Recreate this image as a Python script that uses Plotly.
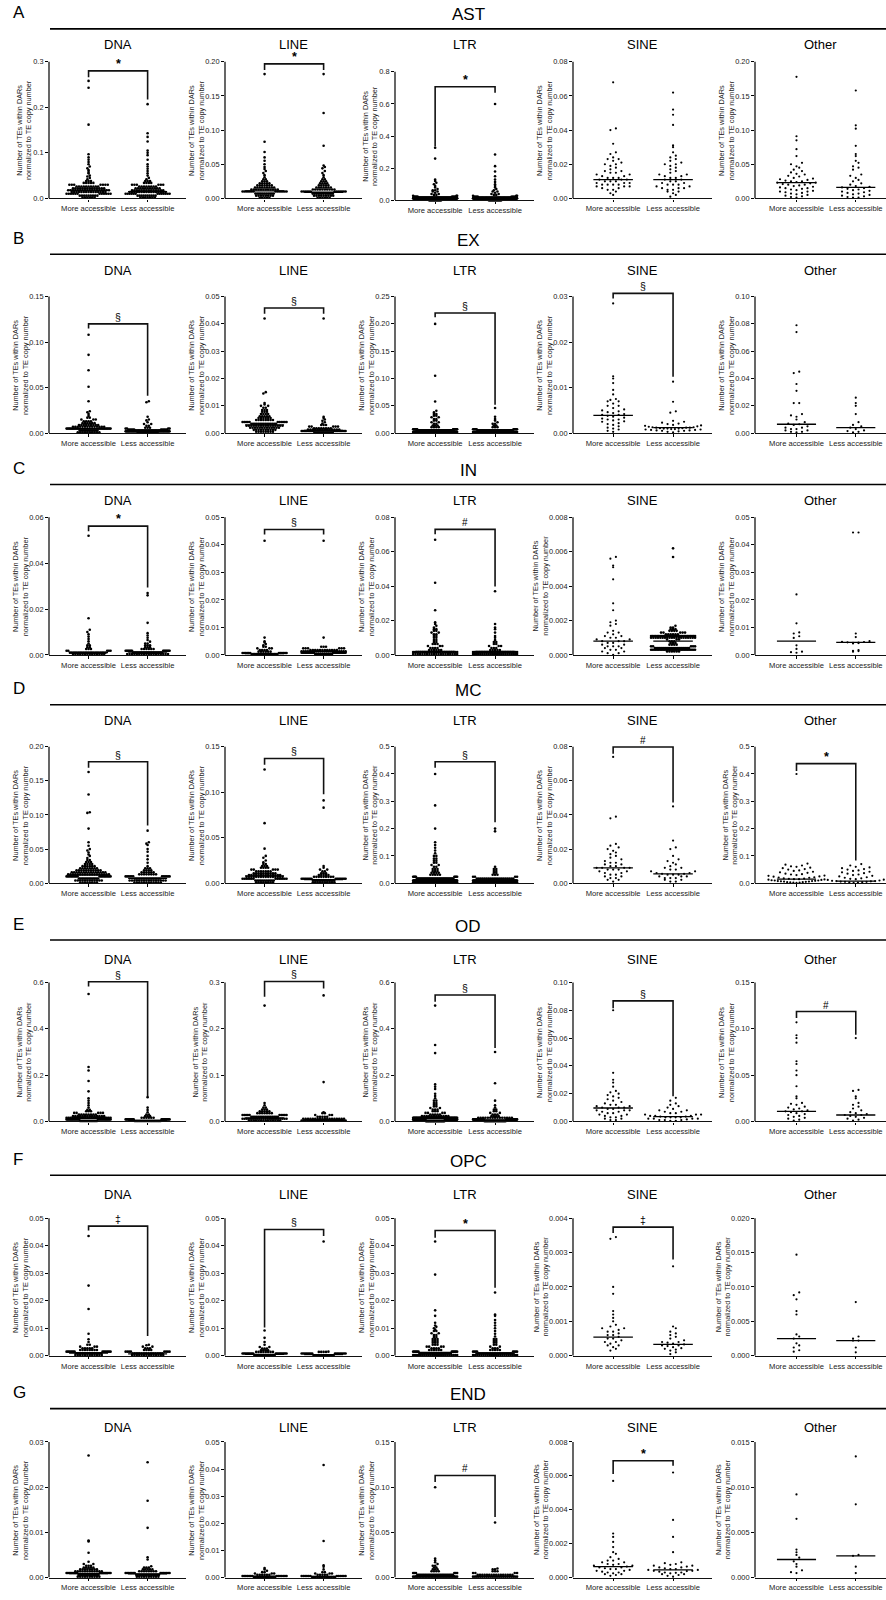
import plotly.graph_objects as go

W, H = 886, 1600

CELL_TYPES = ["AST", "EX", "IN", "MC", "OD", "OPC", "END"]
PANEL_LETTERS = ["A", "B", "C", "D", "E", "F", "G"]
TE_CLASSES = ["DNA", "LINE", "LTR", "SINE", "Other"]
GROUP_LABELS = ["More accessible", "Less accessible"]
Y_TITLE = "Number of TEs within DARs<br>normalized to TE copy number"

# axis maxima and tick steps, one entry per TE class
Y_MAX = {
    "AST": [0.3, 0.2, 0.8, 0.08, 0.2],
    "EX": [0.15, 0.05, 0.25, 0.03, 0.10],
    "IN": [0.06, 0.05, 0.08, 0.008, 0.05],
    "MC": [0.20, 0.15, 0.5, 0.08, 0.5],
    "OD": [0.6, 0.3, 0.6, 0.10, 0.15],
    "OPC": [0.05, 0.05, 0.05, 0.004, 0.020],
    "END": [0.03, 0.05, 0.15, 0.008, 0.015],
}
Y_STEP = {
    "AST": [0.1, 0.05, 0.2, 0.02, 0.05],
    "EX": [0.05, 0.01, 0.05, 0.01, 0.02],
    "IN": [0.02, 0.01, 0.02, 0.002, 0.01],
    "MC": [0.05, 0.05, 0.1, 0.02, 0.1],
    "OD": [0.2, 0.1, 0.2, 0.02, 0.05],
    "OPC": [0.01, 0.01, 0.01, 0.001, 0.005],
    "END": [0.01, 0.01, 0.05, 0.002, 0.005],
}

# medians (more accessible, less accessible)
MEDIANS = {
    "AST": [(0.018, 0.015), (0.011, 0.009), (0.015, 0.013), (0.011, 0.011), (0.023, 0.016)],
    "EX": [(0.005, 0.002), (0.003, 0.001), (0.005, 0.003), (0.0039, 0.0012), (0.0065, 0.004)],
    "IN": [(0.001, 0.0012), (0.0005, 0.0012), (0.002, 0.002), (0.0008, 0.0008), (0.005, 0.0046)],
    "MC": [(0.012, 0.007), (0.008, 0.004), (0.012, 0.008), (0.009, 0.0055), (0.015, 0.008)],
    "OD": [(0.012, 0.005), (0.008, 0.004), (0.015, 0.007), (0.0097, 0.0035), (0.011, 0.007)],
    "OPC": [(0.001, 0.0007), (0.0005, 0.0004), (0.0012, 0.0008), (0.00054, 0.00033), (0.0025, 0.0022)],
    "END": [(0.0009, 0.0008), (0.0005, 0.0004), (0.002, 0.0015), (0.00065, 0.00045), (0.002, 0.0024)],
}

# significance brackets: (symbol, bracket level, left leg end, right leg end)
SIGNIF = {
    "AST": [("*", 0.280, 0.266, 0.217), ("*", 0.197, 0.188, 0.188), ("*", 0.707, 0.335, 0.67), None, None],
    "EX": [("§", 0.120, 0.115, 0.041), ("§", 0.0458, 0.0437, 0.0437), ("§", 0.220, 0.212, 0.052),
           ("§", 0.0307, 0.0296, 0.0124), None],
    "IN": [("*", 0.0562, 0.054, 0.0294), ("§", 0.0456, 0.0438, 0.0438), ("#", 0.073, 0.0702, 0.0398), None, None],
    "MC": [("§", 0.178, 0.169, 0.0846), ("§", 0.137, 0.130, 0.0978), ("§", 0.445, 0.423, 0.223),
           ("#", 0.0798, 0.0759, 0.0473), ("*", 0.438, 0.411, 0.0828)],
    "OD": [("§", 0.603, 0.582, 0.109), ("§", 0.302, 0.269, 0.287), ("§", 0.546, 0.517, 0.317),
           ("§", 0.0867, 0.0815, 0.0181), ("#", 0.1186, 0.1115, 0.0935)],
    "OPC": [("‡", 0.0471, 0.0455, 0.0072), ("§", 0.0459, 0.0103, 0.0435), ("*", 0.0455, 0.0429, 0.0247),
            ("‡", 0.00374, 0.00357, 0.0028), None],
    "END": [None, None, ("#", 0.113, 0.1057, 0.067), ("*", 0.00689, 0.00611, 0.0066), None],
}

# values per group; (value, n) marks n subfamilies sharing that value
MORE_AST = {
    "DNA": [(0.002, 6), (0.006, 9), (0.010, 12), (0.014, 15), (0.018, 18), (0.022, 14), (0.026, 10), (0.030, 7),
            (0.034, 5), (0.038, 3), 0.042, 0.045, 0.048, 0.050, 0.055, 0.058, 0.062, 0.066, 0.070, 0.075, 0.080,
            0.085, 0.090, 0.097, 0.162, 0.243, 0.258],
    "LINE": [(0.001, 5), (0.004, 8), (0.007, 11), (0.010, 14), (0.013, 12), (0.016, 9), (0.019, 7), (0.022, 5),
             (0.025, 3), (0.028, 2), 0.031, 0.034, 0.037, 0.040, 0.043, 0.046, 0.050, 0.055, 0.060, 0.068, 0.083,
             0.182],
    "LTR": [(0.003, 70), (0.008, 90), (0.013, 80), (0.018, 50), (0.023, 14), (0.028, 3), (0.034, 2), (0.040, 2),
            0.047, (0.055, 2), (0.063, 2), 0.071, 0.080, 0.090, 0.100, 0.110, 0.120, 0.130, 0.260, 0.327],
    "SINE": [0.068, 0.041, 0.040, 0.032, 0.027, 0.026, 0.024, 0.023, 0.023, 0.022, 0.021, 0.020, 0.020, 0.019,
             0.018, 0.017, 0.016, 0.016, 0.015, 0.015, 0.014, 0.014, 0.013, 0.013, 0.012, 0.012, 0.012, 0.011,
             0.011, 0.011, 0.010, 0.010, 0.010, 0.009, 0.009, 0.009, 0.008, 0.008, 0.008, 0.008, 0.007, 0.007,
             0.007, 0.006, 0.006, 0.005, 0.005, 0.004, 0.003, 0.002],
    "Other": [0.178, 0.091, 0.085, 0.072, 0.062, 0.052, 0.050, 0.047, 0.045, 0.042, 0.040, 0.038, 0.036, 0.035,
              0.033, 0.032, 0.030, 0.029, 0.028, 0.027, 0.026, 0.025, 0.025, 0.024, 0.023, 0.023, 0.022, 0.021,
              0.020, 0.020, 0.019, 0.018, 0.017, 0.016, 0.015, 0.015, 0.014, 0.013, 0.012, 0.011, 0.010, 0.010,
              0.009, 0.008, 0.007, 0.006, 0.005, 0.004, 0.003, 0.002, 0.001],
}
LESS_AST = {
    "DNA": [(0.002, 7), (0.006, 10), (0.010, 13), (0.014, 16), (0.018, 14), (0.022, 11), (0.026, 8), (0.030, 6),
            (0.034, 4), (0.038, 3), 0.042, 0.045, 0.050, 0.055, 0.060, 0.065, 0.070, 0.075, 0.085, 0.095, 0.100,
            0.105, 0.125, 0.135, 0.143, 0.207],
    "LINE": [(0.001, 6), (0.004, 9), (0.007, 12), (0.010, 13), (0.013, 10), (0.016, 7), (0.019, 5), (0.022, 4),
             (0.025, 3), (0.028, 2), 0.031, 0.034, 0.037, 0.040, 0.044, 0.046, 0.048, 0.077, 0.125, 0.182],
    "LTR": [(0.003, 70), (0.008, 90), (0.013, 70), (0.018, 40), (0.023, 12), (0.028, 3), (0.034, 2), (0.040, 2),
            0.047, (0.055, 2), 0.063, 0.071, 0.080, 0.090, 0.100, 0.115, 0.130, 0.150, 0.180, 0.213, 0.285, 0.600],
    "SINE": [0.062, 0.052, 0.049, 0.043, 0.031, 0.030, 0.027, 0.025, 0.024, 0.023, 0.022, 0.021, 0.020, 0.020,
             0.019, 0.018, 0.017, 0.016, 0.015, 0.014, 0.014, 0.013, 0.013, 0.012, 0.012, 0.011, 0.011, 0.010,
             0.010, 0.009, 0.009, 0.008, 0.008, 0.008, 0.007, 0.007, 0.006, 0.006, 0.006, 0.005, 0.005, 0.004,
             0.004, 0.003, 0.002, 0.001],
    "Other": [0.158, 0.107, 0.102, 0.077, 0.065, 0.062, 0.055, 0.052, 0.047, 0.045, 0.042, 0.035, 0.033, 0.030,
              0.027, 0.025, 0.022, 0.020, 0.018, 0.017, 0.016, 0.015, 0.014, 0.013, 0.012, 0.011, 0.010, 0.009,
              0.008, 0.007, 0.006, 0.005, 0.004, 0.003, 0.002, 0.001, 0.001],
}

MORE_EX = {
    "DNA": [(0.001, 10), (0.003, 16), (0.005, 22), (0.007, 14), (0.009, 9), (0.011, 6), (0.013, 4), (0.015, 3),
            (0.017, 2), 0.019, 0.021, 0.023, 0.024, 0.035, 0.051, 0.069, 0.086, 0.108],
    "LINE": [(0.0005, 8), (0.0012, 10), (0.0020, 13), (0.0027, 16), (0.0034, 15), (0.0041, 11), (0.0048, 8),
             (0.0055, 6), (0.0062, 5), (0.0070, 4), (0.0078, 3), (0.0085, 3), (0.0093, 2), (0.0100, 2), 0.0105,
             0.0110, 0.0145, 0.0150, 0.0420],
    "LTR": [(0.002, 70), (0.005, 80), (0.007, 20), (0.011, 4), (0.014, 3), (0.017, 2), (0.020, 2), (0.023, 2),
            (0.026, 2), (0.029, 2), (0.032, 2), (0.035, 2), 0.038, 0.041, 0.058, 0.105, 0.200],
    "SINE": [0.0285, 0.0125, 0.0120, 0.0110, 0.0095, 0.0085, 0.0075, 0.0073, 0.0070, 0.0070, 0.0065, 0.0060,
             0.0060, 0.0055, 0.0052, 0.0050, 0.0048, 0.0046, 0.0044, 0.0042, 0.0040, 0.0040, 0.0038, 0.0036,
             0.0034, 0.0032, 0.0030, 0.0030, 0.0028, 0.0026, 0.0025, 0.0022, 0.0020, 0.0018, 0.0015, 0.0012,
             0.0010, 0.0008, 0.0005, 0.0003],
    "Other": [0.079, 0.074, 0.045, 0.044, 0.036, 0.031, 0.022, 0.022, 0.014, 0.013, 0.012, 0.010, 0.008, 0.007,
              0.0065, 0.006, 0.005, 0.004, 0.004, 0.003, 0.003, 0.002, 0.002, 0.001, 0.001, 0.0005],
}
LESS_EX = {
    "DNA": [(0.001, 25), (0.002, 30), (0.003, 18), (0.004, 10), (0.005, 4), (0.006, 3), (0.008, 2), (0.010, 2),
            0.012, 0.014, 0.015, 0.018, 0.034, 0.035],
    "LINE": [(0.0003, 15), (0.0008, 20), (0.0013, 14), (0.0018, 8), (0.0024, 5), (0.0030, 3), 0.0035, 0.0040,
             0.0045, 0.0050, 0.0055, 0.0060, 0.0420],
    "LTR": [(0.002, 60), (0.005, 40), (0.007, 10), (0.011, 3), (0.014, 2), (0.017, 2), 0.020, 0.023, 0.026, 0.030,
            0.046],
    "SINE": [0.0113, 0.0069, 0.0048, 0.0045, 0.0027, 0.0025, 0.0023, 0.0021, 0.0020, 0.0018, 0.0017, 0.0016,
             0.0015, 0.0014, 0.0013, 0.0013, 0.0012, 0.0012, 0.0012, 0.0011, 0.0011, 0.0010, 0.0010, 0.0010,
             0.0009, 0.0009, 0.0008, 0.0008, 0.0007, 0.0007, 0.0006, 0.0006, 0.0005, 0.0005, 0.0004, 0.0003,
             0.0002],
    "Other": [0.026, 0.022, 0.020, 0.014, 0.008, 0.006, 0.005, 0.004, 0.003, 0.002, 0.0015, 0.001, 0.0005],
}

MORE_IN = {
    "DNA": [(0.0004, 14), (0.0010, 22), (0.0018, 5), (0.0026, 3), (0.0034, 2), (0.0042, 2), 0.0050, 0.006, 0.007,
            0.008, 0.009, 0.010, 0.011, 0.016, 0.052],
    "LINE": [(0.0003, 18), (0.0007, 12), (0.0012, 6), (0.0018, 4), (0.0024, 3), (0.0030, 2), 0.0035, 0.0040,
             0.0045, 0.0050, 0.0063, 0.0415],
    "LTR": [(0.0005, 20), (0.0017, 25), (0.0029, 6), (0.0040, 4), (0.0052, 3), (0.0064, 3), (0.0075, 2),
            (0.0087, 2), (0.0100, 2), (0.011, 2), (0.012, 2), (0.013, 2), (0.014, 2), (0.015, 2), 0.016, 0.017,
            0.018, 0.019, 0.026, 0.042, 0.067],
    "SINE": [0.0057, 0.0056, 0.0052, 0.0051, 0.0044, 0.0030, 0.0026, 0.0020, 0.0019, 0.0018, 0.0017, 0.0014,
             0.0013, 0.0013, 0.0012, 0.0011, 0.0011, 0.0010, 0.0010, 0.0009, 0.0009, 0.0008, 0.0008, 0.0008,
             0.0007, 0.0007, 0.0006, 0.0006, 0.0005, 0.0005, 0.0005, 0.0004, 0.0004, 0.0003, 0.0003, 0.0002,
             0.0002, 0.0001, 0.0001, 0.0000],
    "Other": [0.022, 0.0115, 0.0082, 0.0078, 0.0068, 0.0062, 0.0035, 0.0022, 0.0012, 0.0010, 0.0008],
}
LESS_IN = {
    "DNA": [(0.0004, 18), (0.0010, 28), (0.0018, 14), (0.0026, 6), (0.0034, 3), (0.0042, 3), (0.0050, 2),
            0.0058, 0.0065, 0.0075, 0.0085, 0.0095, 0.014, 0.026, 0.027],
    "LINE": [(0.0003, 16), (0.0008, 24), (0.0013, 22), (0.0018, 12), (0.0024, 6), (0.0030, 3), 0.0063, 0.0415],
    "LTR": [(0.0005, 24), (0.0017, 28), (0.0029, 5), (0.0040, 3), (0.0052, 3), (0.0064, 2), (0.0075, 2), 0.0087,
            0.0100, 0.011, 0.013, 0.015, 0.016, 0.018, 0.037],
    "SINE": [(0.0002, 6), (0.0003, 30), (0.0004, 18), (0.0005, 5), (0.0006, 4), (0.0007, 3), (0.0008, 3),
             (0.0009, 3), (0.0010, 20), (0.0011, 30), (0.0012, 6), (0.0013, 5), (0.0014, 4), (0.0015, 3),
             (0.0016, 2), 0.0017, 0.0057, 0.0062],
    "Other": [0.0445, 0.0445, 0.0078, 0.0065, 0.0050, 0.0048, 0.0047, 0.0046, 0.0045, 0.0044, 0.0043, 0.0042,
              0.0018, 0.0015, 0.0014, 0.0012],
}

MORE_MC = {
    "DNA": [(0.001, 8), (0.004, 12), (0.007, 15), (0.010, 18), (0.013, 18), (0.016, 15), (0.019, 11), (0.022, 8),
            (0.025, 6), (0.028, 4), (0.031, 3), (0.034, 2), 0.037, 0.040, 0.042, 0.045, 0.048, 0.050, 0.055, 0.060,
            0.080, 0.103, 0.104, 0.130, 0.163],
    "LINE": [(0.001, 8), (0.003, 11), (0.005, 14), (0.007, 16), (0.009, 14), (0.011, 10), (0.013, 7), (0.015, 5),
             (0.017, 4), (0.019, 3), (0.021, 2), 0.023, 0.025, 0.028, 0.030, 0.038, 0.066, 0.125],
    "LTR": [(0.003, 70), (0.010, 90), (0.017, 40), (0.024, 8), (0.031, 5), (0.038, 4), (0.045, 3), (0.052, 3),
            (0.060, 2), (0.067, 2), (0.075, 2), (0.082, 2), (0.090, 2), (0.100, 2), 0.110, 0.120, 0.130, 0.140,
            0.150, 0.200, 0.285, 0.400],
    "SINE": [0.074, 0.039, 0.038, 0.023, 0.022, 0.021, 0.020, 0.019, 0.018, 0.017, 0.016, 0.015, 0.014, 0.013,
             0.012, 0.012, 0.011, 0.011, 0.010, 0.010, 0.009, 0.009, 0.009, 0.009, 0.008, 0.008, 0.008, 0.007,
             0.007, 0.006, 0.006, 0.005, 0.005, 0.004, 0.004, 0.003, 0.003, 0.002, 0.002, 0.001],
    "Other": [0.400, 0.072, 0.068, 0.065, 0.062, 0.060, 0.057, 0.055, 0.052, 0.050, 0.047, 0.045, 0.042, 0.040,
              0.038, 0.035, 0.033, 0.032, 0.030, 0.028, 0.027, 0.025, 0.024, 0.022, 0.021, 0.020, 0.018, 0.017,
              0.016, 0.015, 0.015, 0.014, 0.013, 0.012, 0.011, 0.010, 0.010, 0.009, 0.008, 0.008, 0.007, 0.006,
              0.006, 0.005, 0.004, 0.004, 0.003, 0.002, 0.002, 0.001],
}
LESS_MC = {
    "DNA": [(0.001, 12), (0.004, 16), (0.007, 18), (0.010, 12), (0.013, 8), (0.016, 6), (0.019, 4), (0.022, 3),
            0.025, 0.030, 0.035, 0.040, 0.046, 0.050, 0.056, 0.058, 0.060, 0.077],
    "LINE": [(0.001, 10), (0.003, 16), (0.005, 16), (0.007, 9), (0.009, 5), (0.011, 3), (0.013, 2), (0.015, 2),
             0.017, 0.019, 0.083, 0.091],
    "LTR": [(0.003, 60), (0.010, 70), (0.017, 20), (0.024, 4), (0.031, 3), (0.038, 2), (0.045, 2), (0.052, 2),
            0.060, 0.190, 0.200],
    "SINE": [0.045, 0.025, 0.021, 0.020, 0.016, 0.014, 0.013, 0.012, 0.011, 0.010, 0.009, 0.009, 0.008, 0.008,
             0.007, 0.007, 0.006, 0.006, 0.0055, 0.0055, 0.005, 0.005, 0.005, 0.004, 0.004, 0.004, 0.003, 0.003,
             0.003, 0.002, 0.002, 0.001, 0.001],
    "Other": [0.070, 0.065, 0.060, 0.058, 0.055, 0.052, 0.050, 0.047, 0.045, 0.042, 0.040, 0.037, 0.035, 0.032,
              0.030, 0.027, 0.025, 0.022, 0.020, 0.018, 0.016, 0.015, 0.013, 0.012, 0.010, 0.009, 0.008, 0.008,
              0.007, 0.006, 0.005, 0.005, 0.004, 0.003, 0.002, 0.001],
}

MORE_OD = {
    "DNA": [(0.002, 20), (0.009, 30), (0.016, 24), (0.023, 14), (0.030, 8), (0.037, 5), (0.044, 3), (0.050, 2),
            0.060, 0.070, 0.080, 0.090, 0.100, 0.130, 0.175, 0.220, 0.235, 0.550],
    "LINE": [(0.002, 14), (0.006, 22), (0.010, 16), (0.014, 10), (0.018, 7), (0.022, 5), (0.026, 3), (0.030, 2),
             0.035, 0.040, 0.250],
    "LTR": [(0.002, 70), (0.009, 90), (0.016, 60), (0.023, 12), (0.030, 5), (0.037, 4), (0.044, 3), (0.051, 3),
            (0.058, 2), (0.065, 2), (0.072, 2), (0.080, 2), (0.090, 2), 0.100, 0.110, 0.120, 0.140, 0.150, 0.160,
            0.295, 0.330, 0.500],
    "SINE": [0.080, 0.035, 0.030, 0.028, 0.025, 0.022, 0.021, 0.020, 0.019, 0.018, 0.017, 0.016, 0.015, 0.014,
             0.013, 0.012, 0.012, 0.011, 0.011, 0.010, 0.010, 0.010, 0.009, 0.009, 0.008, 0.008, 0.008, 0.007,
             0.007, 0.006, 0.006, 0.005, 0.005, 0.004, 0.004, 0.003, 0.003, 0.002, 0.002, 0.001, 0.001],
    "Other": [0.107, 0.093, 0.090, 0.085, 0.065, 0.062, 0.055, 0.050, 0.038, 0.027, 0.025, 0.020, 0.019, 0.018,
              0.016, 0.015, 0.014, 0.013, 0.012, 0.011, 0.011, 0.010, 0.009, 0.008, 0.007, 0.006, 0.005, 0.004,
              0.003, 0.002, 0.001],
}
LESS_OD = {
    "DNA": [(0.002, 30), (0.009, 20), (0.016, 6), (0.023, 3), (0.030, 2), 0.040, 0.050, 0.060, 0.105],
    "LINE": [(0.002, 24), (0.006, 18), (0.010, 5), (0.014, 3), (0.018, 2), 0.020, 0.085, 0.272],
    "LTR": [(0.002, 60), (0.009, 60), (0.016, 15), (0.023, 4), (0.030, 3), (0.037, 2), (0.044, 2), (0.051, 2),
            0.060, 0.070, 0.090, 0.165, 0.300],
    "SINE": [0.017, 0.015, 0.013, 0.012, 0.011, 0.010, 0.009, 0.008, 0.008, 0.007, 0.007, 0.006, 0.006, 0.005,
             0.005, 0.005, 0.004, 0.004, 0.004, 0.0035, 0.0035, 0.003, 0.003, 0.003, 0.003, 0.002, 0.002, 0.002,
             0.002, 0.0015, 0.001, 0.001, 0.001, 0.0005, 0.0005],
    "Other": [0.090, 0.034, 0.033, 0.027, 0.025, 0.020, 0.018, 0.016, 0.014, 0.012, 0.010, 0.009, 0.008, 0.007,
              0.007, 0.006, 0.005, 0.004, 0.003, 0.002, 0.001],
}

MORE_OPC = {
    "DNA": [(0.0003, 12), (0.0009, 20), (0.0015, 14), (0.0021, 8), (0.0027, 5), (0.0033, 3), (0.0040, 2), 0.0050,
            0.0060, 0.0080, 0.0170, 0.0255, 0.0435],
    "LINE": [(0.0002, 16), (0.0008, 18), (0.0014, 8), (0.0020, 4), (0.0026, 3), (0.0032, 2), 0.0040, 0.0050,
             0.0065, 0.0092],
    "LTR": [(0.0003, 24), (0.0009, 30), (0.0015, 12), (0.0021, 6), (0.0027, 4), (0.0033, 4), (0.0040, 3),
            (0.0047, 3), (0.0054, 3), (0.0061, 3), (0.0068, 2), (0.0075, 2), (0.0082, 2), (0.0090, 2), 0.0095,
            0.0100, 0.0105, 0.0110, 0.0120, 0.0145, 0.0165, 0.0295, 0.0415],
    "SINE": [0.00345, 0.0034, 0.0020, 0.0018, 0.0013, 0.0012, 0.0011, 0.0010, 0.0009, 0.00085, 0.0008, 0.0008,
             0.00075, 0.0007, 0.0007, 0.00065, 0.0006, 0.0006, 0.00055, 0.0005, 0.0005, 0.00045, 0.0004, 0.0004,
             0.00035, 0.0003, 0.0003, 0.00025, 0.0002, 0.00015],
    "Other": [0.0147, 0.0092, 0.0088, 0.0082, 0.0065, 0.0060, 0.0031, 0.0028, 0.0025, 0.0018, 0.0015, 0.0012,
              0.0008, 0.0006],
}
LESS_OPC = {
    "DNA": [(0.0003, 14), (0.0009, 18), (0.0015, 8), (0.0021, 4), (0.0027, 3), (0.0033, 2), 0.0038, 0.0040],
    "LINE": [(0.0002, 14), (0.0008, 16), (0.0014, 4), 0.0015, 0.0415],
    "LTR": [(0.0003, 22), (0.0009, 26), (0.0015, 8), (0.0021, 5), (0.0027, 3), (0.0033, 2), (0.0040, 2),
            (0.0047, 2), (0.0054, 2), (0.0061, 2), 0.0070, 0.0080, 0.0090, 0.0100, 0.0110, 0.0120, 0.0130, 0.0145,
            0.0150, 0.0230],
    "SINE": [0.0026, 0.00085, 0.0008, 0.0007, 0.00065, 0.0006, 0.00055, 0.0005, 0.00045, 0.0004, 0.0004, 0.00038,
             0.00035, 0.00033, 0.0003, 0.0003, 0.00028, 0.00025, 0.00022, 0.0002, 0.00018, 0.00015, 0.0001,
             0.00005],
    "Other": [0.0078, 0.0028, 0.0025, 0.0022, 0.0022, 0.0012, 0.0005],
}

MORE_END = {
    "DNA": [(0.0002, 10), (0.0006, 16), (0.0010, 18), (0.0014, 12), (0.0018, 8), (0.0022, 5), (0.0026, 3),
            (0.0030, 2), 0.0035, 0.0055, 0.0080, 0.0082, 0.0270],
    "LINE": [(0.0002, 14), (0.0006, 14), (0.0010, 6), (0.0015, 3), (0.0020, 2), 0.0025, 0.0030, 0.0035],
    "LTR": [(0.001, 30), (0.003, 26), (0.005, 6), (0.007, 4), (0.009, 3), (0.011, 2), (0.013, 2), 0.015, 0.017,
            0.019, 0.021, 0.100],
    "SINE": [0.0057, 0.0026, 0.0024, 0.0021, 0.0018, 0.0015, 0.0014, 0.0012, 0.0011, 0.0010, 0.0010, 0.0009,
             0.0009, 0.0008, 0.0008, 0.00075, 0.0007, 0.0007, 0.00065, 0.0006, 0.0006, 0.00055, 0.0005, 0.0005,
             0.00045, 0.0004, 0.0004, 0.00035, 0.0003, 0.0003, 0.00025, 0.0002, 0.0002, 0.00015, 0.0001],
    "Other": [0.0092, 0.0065, 0.0031, 0.0028, 0.0025, 0.0022, 0.0018, 0.0015, 0.0012, 0.0008, 0.0006, 0.0005],
}
LESS_END = {
    "DNA": [(0.0002, 10), (0.0006, 16), (0.0010, 14), (0.0014, 8), (0.0018, 5), (0.0022, 3), 0.0025, 0.0040,
            0.0045, 0.0110, 0.0170, 0.0255],
    "LINE": [(0.0002, 14), (0.0006, 12), (0.0010, 5), (0.0015, 3), (0.0020, 2), 0.0030, 0.0040, 0.0045, 0.0135,
             0.0415],
    "LTR": [(0.001, 24), (0.003, 16), (0.005, 4), (0.007, 3), (0.009, 2), 0.010, 0.061],
    "SINE": [0.0062, 0.0034, 0.0024, 0.0015, 0.0009, 0.00085, 0.0008, 0.00075, 0.0007, 0.0007, 0.00065, 0.0006,
             0.0006, 0.00055, 0.0005, 0.0005, 0.00045, 0.00045, 0.0004, 0.0004, 0.00038, 0.00035, 0.0003, 0.0003,
             0.00028, 0.00025, 0.0002, 0.0002, 0.00015, 0.0001, 0.00005],
    "Other": [0.0134, 0.0081, 0.0025, 0.0024, 0.0012, 0.0005],
}

MORE = {"AST": MORE_AST, "EX": MORE_EX, "IN": MORE_IN, "MC": MORE_MC, "OD": MORE_OD, "OPC": MORE_OPC,
        "END": MORE_END}
LESS = {"AST": LESS_AST, "EX": LESS_EX, "IN": LESS_IN, "MC": LESS_MC, "OD": LESS_OD, "OPC": LESS_OPC,
        "END": LESS_END}

# ---- page geometry (pixels) ----
RULE_Y = [29, 255, 486, 707, 943, 1179, 1413]
CLASS_TITLE_Y = [45, 271, 502, 723, 963, 1198, 1432]
PLOT_TOP = [62, 297.5, 519, 749, 985.5, 1222, 1446.5]
PLOT_BOTTOM = [199, 434.5, 657, 886, 1125, 1360, 1582.5]
BOX_OVERRIDE = {(0, 2): (72, 201)}
COL_X = [(49, 186), (225, 362), (395, 534), (573, 712), (755, 886)]
X_RANGE = [(-0.67, 1.65)] * 4 + [(-0.70, 1.51)]
HEADROOM = 1.06
DENSE_CLASSES = {"DNA", "LINE", "LTR"}
SYMBOL_SIZE = {"*": 12.5, "§": 10.5, "#": 10, "‡": 10.5}

FONT = "Liberation Sans, Arial, sans-serif"


def expand(items):
    out = []
    for it in items:
        if isinstance(it, tuple):
            out.extend([it[0]] * it[1])
        else:
            out.append(it)
    return out


def swarm(vals, ppu_y, ppu_x, center, d, h, maxw):
    """Scatter-dot layout: points sharing a row are spread sideways."""
    rows = {}
    for v in sorted(vals):
        rows.setdefault(int(v * ppu_y // h), []).append(v)
    xs, ys = [], []
    for key in sorted(rows):
        row = rows[key]
        n = len(row)
        s = d if (n - 1) * d <= 2 * maxw else 2 * maxw / (n - 1)
        slots = sorted([(i - (n - 1) / 2) * s for i in range(n)], key=lambda o: (abs(o), o))
        for v, o in zip(row, slots):
            xs.append(center + o / ppu_x)
            ys.append(v)
    return xs, ys


def fmt_ticks(top, step):
    s = f"{step:g}"
    dec = len(s.split(".")[1]) if "." in s else 0
    n = int(round(top / step))
    vals = [round(k * step, 8) for k in range(n + 1)]
    return vals, [f"{v:.{dec}f}" for v in vals]


fig = go.Figure()
layout = {}
shapes = []
annotations = []

for r, cell in enumerate(CELL_TYPES):
    ry = RULE_Y[r]
    shapes.append(dict(type="line", xref="paper", yref="paper", x0=50 / W, x1=1.0,
                       y0=1 - ry / H, y1=1 - ry / H, line=dict(color="black", width=1.6)))
    annotations.append(dict(text=PANEL_LETTERS[r], xref="paper", yref="paper", x=11 / W, y=1 - (ry - 16) / H,
                            xanchor="left", yanchor="middle", showarrow=False,
                            font=dict(size=17, color="black", family=FONT)))
    annotations.append(dict(text=cell, xref="paper", yref="paper", x=468 / W, y=1 - (ry - 14) / H,
                            xanchor="center", yanchor="middle", showarrow=False,
                            font=dict(size=17, color="black", family=FONT)))

    for c, te in enumerate(TE_CLASSES):
        k = r * 5 + c + 1
        xid = "x" if k == 1 else f"x{k}"
        yid = "y" if k == 1 else f"y{k}"
        top_px, bot_px = BOX_OVERRIDE.get((r, c), (PLOT_TOP[r], PLOT_BOTTOM[r]))
        x0_px, x1_px = COL_X[c]
        xr = X_RANGE[c]
        ymax = Y_MAX[cell][c]
        step = Y_STEP[cell][c]
        plot_h = bot_px - top_px
        dom_top_px = bot_px - plot_h * HEADROOM
        ppu_y = plot_h / ymax
        ppu_x = (x1_px - x0_px) / (xr[1] - xr[0])
        tickvals, ticktext = fmt_ticks(ymax, step)

        layout["xaxis" if k == 1 else f"xaxis{k}"] = dict(
            domain=[x0_px / W, x1_px / W], range=list(xr), anchor=yid,
            showline=True, linecolor="#111", linewidth=1.3, mirror=False,
            ticks="outside", ticklen=2.5, tickwidth=1, tickcolor="black",
            tickmode="array", tickvals=[0, 1], ticktext=GROUP_LABELS,
            tickfont=dict(size=7.6, color="#222", family=FONT),
            showgrid=False, zeroline=False, fixedrange=True)
        layout["yaxis" if k == 1 else f"yaxis{k}"] = dict(
            domain=[1 - bot_px / H, 1 - dom_top_px / H], range=[0, ymax * HEADROOM], anchor=xid,
            showline=False, ticks="outside", ticklen=3, tickwidth=1, tickcolor="black",
            tickmode="array", tickvals=tickvals, ticktext=ticktext,
            tickfont=dict(size=7.4, color="#222", family=FONT),
            showgrid=False, zeroline=False, fixedrange=True)

        # y axis line ends at the top tick
        shapes.append(dict(type="line", xref=f"{xid} domain", yref=yid, x0=0, x1=0, y0=0, y1=ymax,
                           line=dict(color="black", width=1.2)))

        # class title and y-axis title
        annotations.append(dict(text=te, xref="paper", yref="paper", x=(x0_px + x1_px) / 2 / W,
                                y=1 - CLASS_TITLE_Y[r] / H, xanchor="center", yanchor="middle",
                                showarrow=False, font=dict(size=13, color="black", family=FONT)))
        off = 14 + 3.7 * len(ticktext[-1])
        annotations.append(dict(text=Y_TITLE, xref="paper", yref="paper", x=(x0_px - off) / W,
                                y=1 - (top_px + bot_px) / 2 / H, xanchor="center", yanchor="middle",
                                textangle=-90, showarrow=False, align="center",
                                font=dict(size=7.3, color="#222", family=FONT)))

        # dots
        for g, src in enumerate([MORE[cell][te], LESS[cell][te]]):
            vals = expand(src)
            dense = te in DENSE_CLASSES or len(vals) > 80
            if dense:
                xs, ys = swarm(vals, ppu_y, ppu_x, g, d=2.4, h=2.3, maxw=22)
                msize = 2.6
            else:
                xs, ys = swarm(vals, ppu_y, ppu_x, g, d=5.5, h=4.0, maxw=28)
                msize = 2.2
            fig.add_trace(go.Scatter(x=xs, y=ys, xaxis=xid, yaxis=yid, mode="markers",
                                     marker=dict(size=msize, color="black", line=dict(width=0)),
                                     cliponaxis=False, hoverinfo="skip", showlegend=False))
        # median lines
        for g, m in enumerate(MEDIANS[cell][c]):
            fig.add_trace(go.Scatter(x=[g - 0.33, g + 0.33], y=[m, m], xaxis=xid, yaxis=yid, mode="lines",
                                     line=dict(color="black", width=1.3), hoverinfo="skip",
                                     showlegend=False))
        # significance bracket
        sig = SIGNIF[cell][c]
        if sig is not None:
            sym, level, left_end, right_end = sig
            fig.add_trace(go.Scatter(x=[0, 0, 1, 1], y=[left_end, level, level, right_end], xaxis=xid,
                                     yaxis=yid, mode="lines", line=dict(color="#111", width=1.6),
                                     hoverinfo="skip", showlegend=False))
            sym_text = f"<b>{sym}</b>" if sym == "*" else sym
            annotations.append(dict(text=sym_text, xref=xid, yref=yid, x=0.5, y=level, xanchor="center",
                                    yanchor="bottom", yshift=-2 if sym == "*" else -1, showarrow=False,
                                    font=dict(size=SYMBOL_SIZE[sym], color="black", family=FONT)))

fig.update_layout(
    width=W, height=H, margin=dict(l=0, r=0, t=0, b=0),
    paper_bgcolor="white", plot_bgcolor="rgba(0,0,0,0)",
    showlegend=False, shapes=shapes, annotations=annotations,
    font=dict(family=FONT, color="black"), **layout)

fig.write_html("out.html")
